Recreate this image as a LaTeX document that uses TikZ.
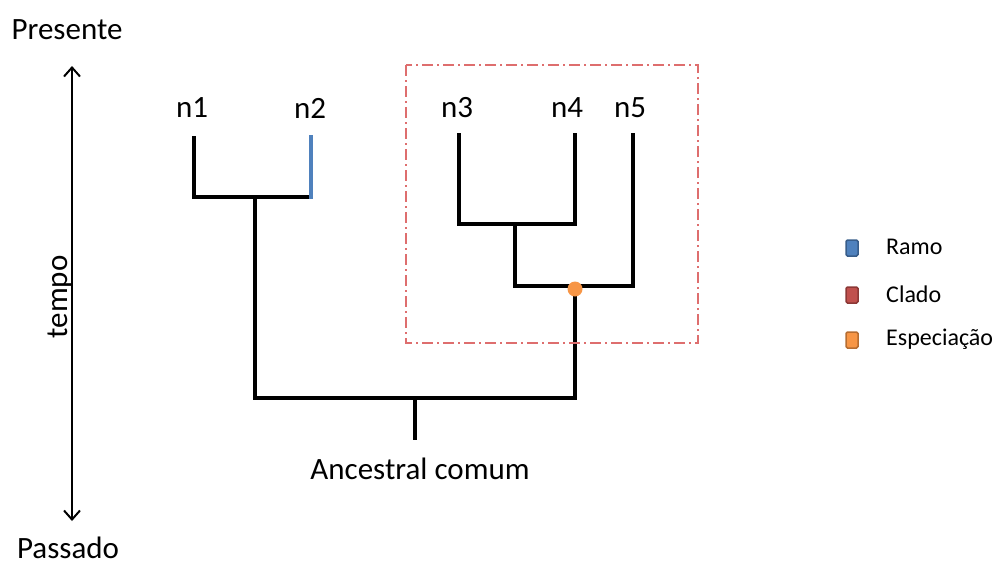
\documentclass[tikz,border=0pt]{standalone}
\usepackage{fontspec}
\setmainfont{Carlito}
\usetikzlibrary{arrows.meta}
\definecolor{ramoC}{RGB}{79,129,189}
\definecolor{ramoB}{RGB}{56,93,138}
\definecolor{cladoC}{RGB}{192,80,77}
\definecolor{cladoB}{RGB}{140,56,54}
\definecolor{espC}{RGB}{247,150,70}
\definecolor{espB}{RGB}{182,109,49}
\definecolor{boxred}{RGB}{222,110,110}
\tikzset{
  branch/.style={line width=3.2pt, line cap=rect},
  big/.style={font=\fontsize{31}{36}\selectfont, inner sep=0pt},
  small/.style={font=\fontsize{24}{28}\selectfont, inner sep=0pt, anchor=west},
  legbox/.style={minimum width=12pt, minimum height=16pt, inner sep=0pt, rounded corners=1.5pt, line width=1.5pt},
}
\begin{document}
\begin{tikzpicture}[x=1pt,y=-1pt]
\useasboundingbox (0,0) rectangle (995,566);
% time axis
\node[big] (pres) at (67,30) {Presente};
\node[big] (pass) at (68,548) {Passado};
\node[big, rotate=90] (tempo) at (60,297) {tempo};
\coordinate (atop) at (72,66);
\coordinate (abot) at (72,521);
\draw[line width=2pt, {Straight Barb[length=9pt,width=16pt]}-{Straight Barb[length=9pt,width=16pt]}] (atop) -- (abot);
% labels
\node[big] (n1) at (192,108) {n1};
\node[big] (n2) at (310,108) {n2};
\node[big] (n3) at (457,108) {n3};
\node[big] (n4) at (567,108) {n4};
\node[big] (n5) at (630,108) {n5};
\node[big] (anc) at (420,469) {Ancestral comum};
% coordinates
\coordinate (t1) at (194,138);
\coordinate (t2) at (311,135);
\coordinate (t3) at (459,135);
\coordinate (t4) at (575,135);
\coordinate (t5) at (633,135);
\coordinate (j12a) at (194,197);
\coordinate (j12b) at (311,197);
\coordinate (j12m) at (255,197);
\coordinate (j34a) at (459,224);
\coordinate (j34b) at (575,224);
\coordinate (j34m) at (515,224);
\coordinate (j345a) at (515,286);
\coordinate (j345b) at (633,286);
\coordinate (sp) at (575,289);
\coordinate (ra) at (255,398);
\coordinate (rb) at (575,398);
\coordinate (rm) at (415,398);
\coordinate (root) at (415,438);
% tree
\draw[branch] (t1) -- (j12a) -- (j12b);
\draw[branch] (j12m) -- (ra) -- (rb) -- (sp);
\draw[branch] (rm) -- (root);
\draw[branch] (t3) -- (j34a) -- (j34b) -- (t4);
\draw[branch] (j34m) -- (j345a) -- (j345b) -- (t5);
\draw[line width=4pt, color=ramoC] (t2) -- ([yshift=-2pt]j12b);
\node[circle, fill=espC, minimum size=15pt, inner sep=0pt] (spdot) at (sp) {};
% clade box
\draw[boxred, line width=1.3pt, dash pattern=on 11pt off 4pt on 2pt off 4pt] (406,65) rectangle (698,343);
% legend
\node[legbox, fill=ramoC, draw=ramoB] (l1) at (852,248) {};
\node[legbox, fill=cladoC, draw=cladoB] (l2) at (852,295) {};
\node[legbox, fill=espC, draw=espB] (l3) at (852,340) {};
\node[small] (t1l) at (886,247) {Ramo};
\node[small] (t2l) at (886,294) {Clado};
\node[small] (t3l) at (886,339) {Especiação};
\end{tikzpicture}
\end{document}
